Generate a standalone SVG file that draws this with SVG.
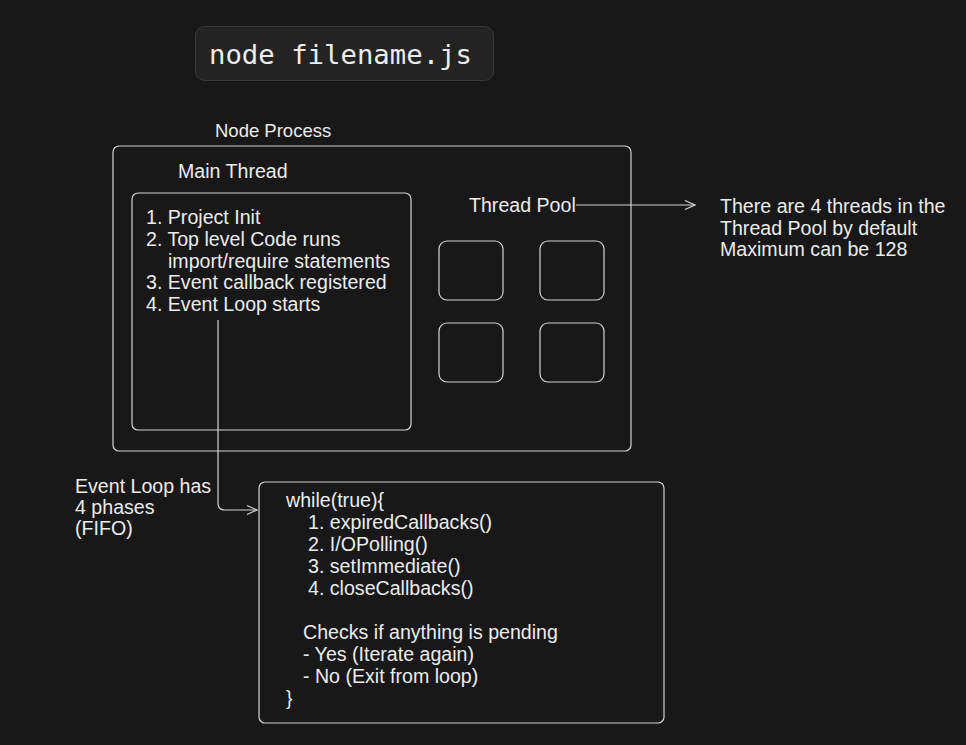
<svg xmlns="http://www.w3.org/2000/svg" width="966" height="745" viewBox="0 0 966 745">
<defs>
<marker id="arr" viewBox="0 0 12 12" refX="11" refY="6" markerWidth="12" markerHeight="12" markerUnits="userSpaceOnUse" orient="auto">
<path d="M1,1.5 L11,6 L1,10.5" fill="none" stroke="#d4d4d4" stroke-width="1.2"/>
</marker>
<style>
.t{font-family:"Liberation Sans",Arial,Helvetica,sans-serif;font-size:19.6px;fill:#ececec}
.s{font-family:"Liberation Sans",Arial,Helvetica,sans-serif;font-size:18.5px;fill:#ececec}
.m{font-family:"DejaVu Sans Mono","Liberation Mono",monospace;font-size:27.3px;fill:#ececec}
.box{fill:none;stroke:#d4d4d4;stroke-width:1.2}
.con{fill:none;stroke:#d4d4d4;stroke-width:1.2}
</style>
</defs>
<rect width="966" height="745" fill="#181818"/>

<g id="cmd">
<rect x="195.5" y="26.5" width="298" height="54" rx="9" fill="#232323" stroke="#3a3a3a" stroke-width="1"/>
<text class="m" x="209" y="64">node filename.js</text>
</g>

<g id="node-process">
<text class="s" x="215" y="137">Node Process</text>
<rect class="box" x="113" y="146" width="518" height="305" rx="6"/>
</g>

<g id="main-thread">
<text class="t" x="178" y="178">Main Thread</text>
<rect class="box" x="132" y="193" width="279" height="237" rx="6"/>
<text class="t" x="146" y="224">1. Project Init</text>
<text class="t" x="146" y="246">2. Top level Code runs</text>
<text class="t" x="168" y="267.5">import/require statements</text>
<text class="t" x="146" y="289">3. Event callback registered</text>
<text class="t" x="146" y="311">4. Event Loop starts</text>
</g>

<g id="thread-pool">
<text class="t" x="469" y="212">Thread Pool</text>
<rect class="box" x="439" y="241" width="64" height="59" rx="8"/>
<rect class="box" x="540" y="241" width="64" height="59" rx="8"/>
<rect class="box" x="439" y="323" width="64" height="59" rx="8"/>
<rect class="box" x="540" y="323" width="64" height="59" rx="8"/>
</g>

<g id="pool-note">
<text class="t" x="720" y="213">There are 4 threads in the</text>
<text class="t" x="720" y="235">Thread Pool by default</text>
<text class="t" x="720" y="256">Maximum can be 128</text>
</g>

<g id="event-loop-note">
<text class="t" x="75" y="493">Event Loop has</text>
<text class="t" x="75" y="514">4 phases</text>
<text class="t" x="75" y="535">(FIFO)</text>
</g>

<g id="event-loop">
<rect class="box" x="259" y="482" width="405" height="241" rx="6"/>
<text class="t" x="286" y="507">while(true){</text>
<text class="t" x="308" y="529">1. expiredCallbacks()</text>
<text class="t" x="308" y="551">2. I/OPolling()</text>
<text class="t" x="308" y="573">3. setImmediate()</text>
<text class="t" x="308" y="595">4. closeCallbacks()</text>
<text class="t" x="303" y="639">Checks if anything is pending</text>
<text class="t" x="303" y="661">- Yes (Iterate again)</text>
<text class="t" x="303" y="683">- No (Exit from loop)</text>
<text class="t" x="286" y="705">}</text>
</g>

<g id="connectors">
<path class="con" d="M576,205 L695,205" marker-end="url(#arr)"/>
<path class="con" d="M218,320 L218,503 Q218,510 225,510 L257,510" marker-end="url(#arr)"/>
</g>
</svg>
